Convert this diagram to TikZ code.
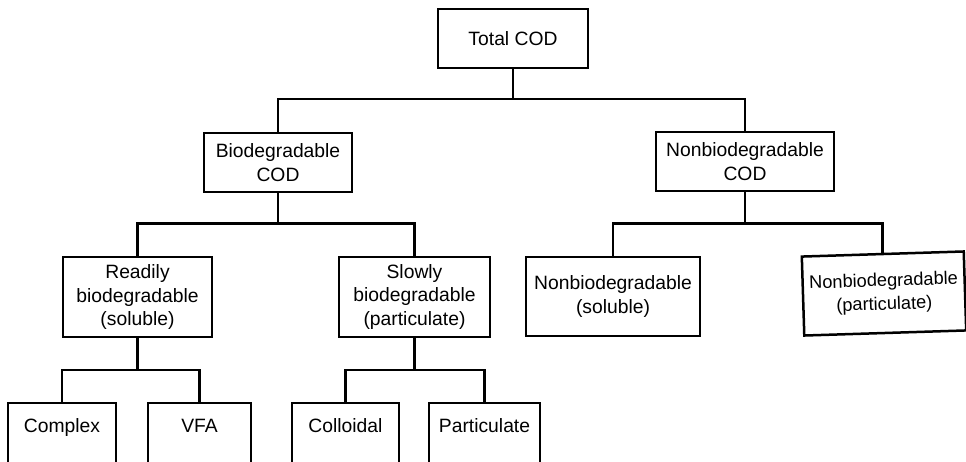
\documentclass[tikz,border=0pt]{standalone}
\usepackage{fontspec}
\setmainfont{Liberation Sans}
\begin{document}
\begin{tikzpicture}[x=1pt,y=-1pt,
  every node/.style={font=\fontsize{19.3}{23.5}\selectfont},
  codbox/.style={draw, line width=2.5pt, rectangle, align=center, inner sep=0pt},
  leafbox/.style={codbox, minimum height=68pt, text height=14pt, text depth=24pt},
  link/.style={line width=2.8pt}]
\useasboundingbox (0,0) rectangle (966,461);
\clip (0,0) rectangle (966,461);

% top level
\node[codbox, minimum width=150pt, minimum height=59pt] (total) at (513,38.5) {Total COD};

% second level
\node[codbox, minimum width=148pt, minimum height=59pt] (bio) at (278,162.5) {Biodegradable\\COD};
\node[codbox, minimum width=178pt, minimum height=59pt] (nonbio) at (745,161.5) {Nonbiodegradable\\COD};

% third level
\node[codbox, minimum width=149pt, minimum height=80pt] (readily) at (137.5,297) {Readily\\biodegradable\\(soluble)};
\node[codbox, minimum width=151pt, minimum height=80pt] (slowly) at (414.5,297) {Slowly\\biodegradable\\(particulate)};
\node[codbox, minimum width=174pt, minimum height=79pt] (nbsol) at (613,296.5) {Nonbiodegradable\\(soluble)};
\node[codbox, minimum width=162pt, minimum height=79pt, rotate=1.8,
      font=\fontsize{18.2}{23.5}\selectfont] (nbpart) at (884,293.5) {Nonbiodegradable\\(particulate)};

% fourth level
\node[leafbox, minimum width=108pt] (complex) at (62,437) {Complex};
\node[leafbox, minimum width=103pt] (vfa) at (199.5,437) {VFA};
\node[leafbox, minimum width=107pt] (colloidal) at (345.5,437) {Colloidal};
\node[leafbox, minimum width=111pt] (partic) at (484.5,437) {Particulate};

% bus levels
\coordinate (busA) at (0,99);
\coordinate (busB) at (0,223.5);
\coordinate (busC) at (0,370);

% connectors
\draw[link] (total.south) -- (total.south |- busA);
\draw[link] (bio.north) -- (bio.north |- busA) -- (nonbio.north |- busA) -- (nonbio.north);

\draw[link] (bio.south) -- (bio.south |- busB);
\draw[link] (readily.north) -- (readily.north |- busB) -- (slowly.north |- busB) -- (slowly.north);

\draw[link] (nonbio.south) -- (nonbio.south |- busB);
\draw[link] (nbsol.north) -- (nbsol.north |- busB) -- (nbpart.north |- busB) -- (nbpart.north);

\draw[link] (readily.south) -- (readily.south |- busC);
\draw[link] (complex.north) -- (complex.north |- busC) -- (vfa.north |- busC) -- (vfa.north);

\draw[link] (slowly.south) -- (slowly.south |- busC);
\draw[link] (colloidal.north) -- (colloidal.north |- busC) -- (partic.north |- busC) -- (partic.north);
\end{tikzpicture}
\end{document}
